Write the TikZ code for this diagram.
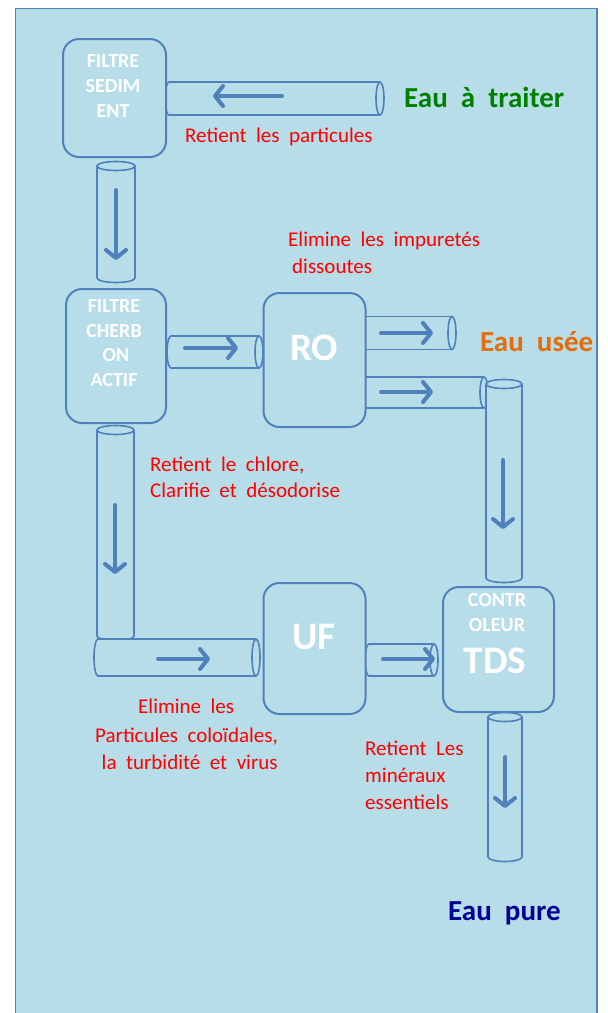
\documentclass[tikz,border=0pt]{standalone}
\usepackage{fontspec}
\setmainfont{Carlito}[WordSpace=2.0]
\usetikzlibrary{arrows.meta}
\definecolor{bgblue}{RGB}{183,221,232}
\definecolor{lineblue}{RGB}{79,129,189}
\definecolor{eaugreen}{RGB}{0,128,0}
\definecolor{eauorange}{RGB}{228,108,10}
\definecolor{eaunavy}{RGB}{0,0,150}
\tikzset{
  pipeline/.style={draw=lineblue, line width=1.6pt},
  box/.style={draw=lineblue, line width=2pt, fill=bgblue, rounded corners=16pt, inner sep=0pt},
  flow/.style={draw=lineblue, line width=4pt, line cap=round,
    -{Straight Barb[length=8pt, width=20pt, line width=4pt, round]}},
  boxtxt/.style={text=white, font=\bfseries\fontsize{20}{22}\selectfont, inner sep=0pt, anchor=base},
  bigtxt/.style={text=white, font=\bfseries\fontsize{39}{40}\selectfont, inner sep=0pt, anchor=base},
  note/.style={text=red, font=\fontsize{21}{24}\selectfont, inner sep=0pt, anchor=base west},
  eau/.style={font=\bfseries\fontsize{29}{32}\selectfont, inner sep=0pt, anchor=base west},
}
% horizontal pipe: x1, x2, yc, ry
\newcommand\hpipe[4]{%
  \draw[pipeline, fill=bgblue] (#1,#3) ellipse [x radius=4pt, y radius=#4pt];
  \fill[bgblue] (#1,{#3-#4}) rectangle (#2,{#3+#4});
  \draw[pipeline] (#1,{#3-#4}) -- (#2,{#3-#4}) (#1,{#3+#4}) -- (#2,{#3+#4});
  \draw[pipeline, fill=bgblue] (#2,#3) ellipse [x radius=4pt, y radius=#4pt];
}
% vertical pipe: xc, y1 (top), y2 (bottom), rx
\newcommand\vpipe[4]{%
  \draw[pipeline, fill=bgblue] (#1,#3) ellipse [x radius=#4pt, y radius=4.5pt];
  \fill[bgblue] ({#1-#4},#2) rectangle ({#1+#4},#3);
  \draw[pipeline] ({#1-#4},#2) -- ({#1-#4},#3) ({#1+#4},#2) -- ({#1+#4},#3);
  \draw[pipeline, fill=bgblue] (#1,#2) ellipse [x radius=#4pt, y radius=4.5pt];
}
\begin{document}
\begin{tikzpicture}[x=1pt, y=-1pt]
\useasboundingbox[fill=white] (0,0) rectangle (608,1013);
% frame
\draw[draw=lineblue, line width=1.2pt, fill=bgblue] (15.5,8.5) rectangle (597,1030);

% pipes
\hpipe{169}{380}{98.5}{16.5}
\vpipe{116}{166}{278}{19}
\hpipe{171}{259}{352}{16}
\hpipe{364}{452}{333}{16.5}
\hpipe{364}{484}{392.5}{15.5}
\vpipe{504}{384}{578}{18}
\vpipe{115.5}{430}{636}{18.5}
\hpipe{98}{256}{657.5}{18.5}
\hpipe{369}{434}{660}{16}
\vpipe{505}{717}{857}{17}

% boxes
\node[box, minimum width=103pt, minimum height=118pt] (sed) at (114.5,98) {};
\node[box, minimum width=100pt, minimum height=134pt] (carb) at (116,356) {};
\node[box, minimum width=102pt, minimum height=134pt] (ro) at (314.5,360) {};
\node[box, minimum width=102pt, minimum height=131pt] (uf) at (314.5,648.5) {};
\node[box, minimum width=111pt, minimum height=125pt] (tds) at (498.5,649.5) {};

% box texts
\node[boxtxt] (s1) at (113,67) {FILTRE};
\node[boxtxt] (s2) at (113,92) {SEDIM};
\node[boxtxt] (s3) at (113,117) {ENT};
\node[boxtxt] (c1) at (114,312) {FILTRE};
\node[boxtxt] (c2) at (114,337) {CHERB};
\node[boxtxt] (c3) at (116,361) {ON};
\node[boxtxt] (c4) at (114,386) {ACTIF};
\node[bigtxt] (rot) at (314,360) {RO};
\node[bigtxt] (uft) at (314,649) {UF};
\node[boxtxt] (t1) at (497,606) {CONTR};
\node[boxtxt] (t2) at (497,631) {OLEUR};
\node[bigtxt] (t3) at (495,673) {TDS};

% arrows
\coordinate (a1s) at (282,96); \coordinate (a1e) at (213,96);
\coordinate (a2s) at (116,190); \coordinate (a2e) at (116,260);
\coordinate (a3s) at (185,348); \coordinate (a3e) at (238,348);
\coordinate (a4s) at (381,333); \coordinate (a4e) at (433,333);
\coordinate (a5s) at (381,392); \coordinate (a5e) at (433,392);
\coordinate (a6s) at (503,460); \coordinate (a6e) at (503,529);
\coordinate (a7s) at (115,505); \coordinate (a7e) at (115,574);
\coordinate (a8s) at (158,659); \coordinate (a8e) at (210,659);
\coordinate (a9s) at (383,659); \coordinate (a9e) at (435,659);
\coordinate (a10s) at (505,757); \coordinate (a10e) at (505,808);
\draw[flow] (a1s) -- (a1e);
\draw[flow] (a2s) -- (a2e);
\draw[flow] (a3s) -- (a3e);
\draw[flow] (a4s) -- (a4e);
\draw[flow] (a5s) -- (a5e);
\draw[flow] (a6s) -- (a6e);
\draw[flow] (a7s) -- (a7e);
\draw[flow] (a8s) -- (a8e);
\draw[flow] (a9s) -- (a9e);
\draw[flow] (a10s) -- (a10e);

% labels
\node[eau, text=eaugreen] (in) at (404,107) {Eau à traiter};
\node[eau, text=eauorange] (used) at (480,351) {Eau usée};
\node[eau, text=eaunavy] (pure) at (448,920) {Eau pure};

\node[note] (n1) at (185,142) {Retient les particules};
\node[note] (n2) at (288,246) {Elimine les impuretés};
\node[note] (n3) at (292,273) {dissoutes};
\node[note] (n4) at (150,471) {Retient le chlore,};
\node[note] (n5) at (150,497) {Clarifie et désodorise};
\node[note] (n6) at (138,713) {Elimine les};
\node[note] (n7) at (95,742) {Particules coloïdales,};
\node[note] (n8) at (101.5,769) {la turbidité et virus};
\node[note] (n9) at (365,755) {Retient Les};
\node[note] (n10) at (365,782) {minéraux};
\node[note] (n11) at (365,809) {essentiels};
\end{tikzpicture}
\end{document}
